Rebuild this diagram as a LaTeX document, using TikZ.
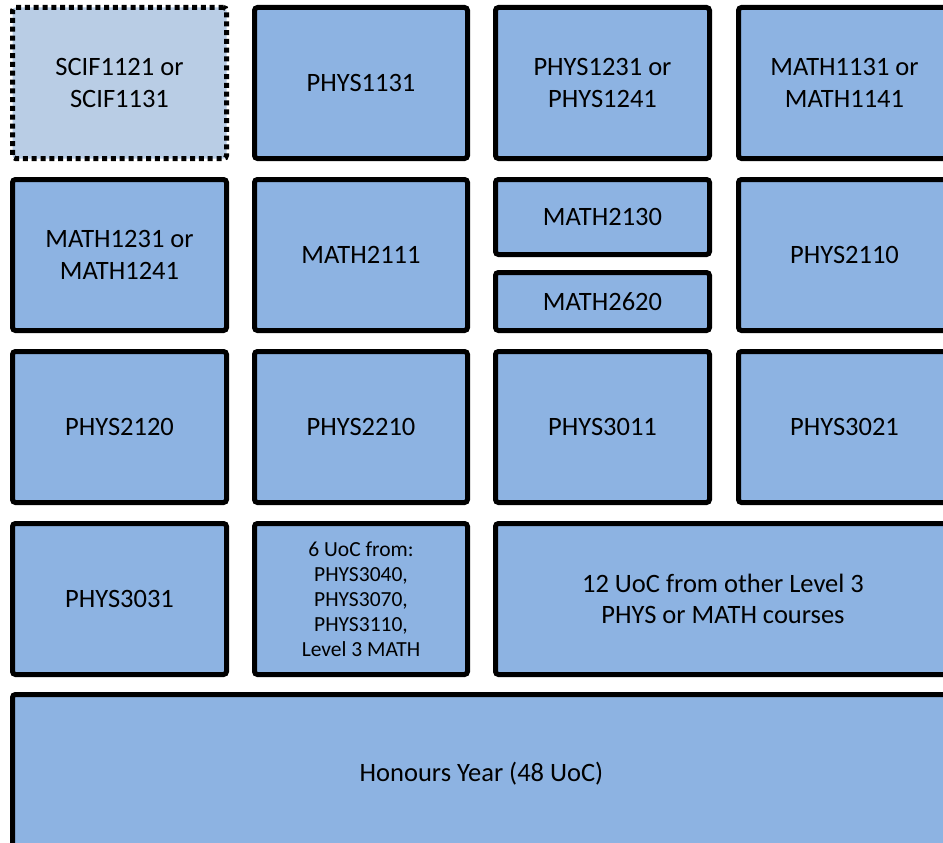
\documentclass[tikz,border=0pt]{standalone}
\usepackage{fontspec}
\setmainfont{Carlito}
\definecolor{boxblue}{HTML}{8DB3E2}
\definecolor{lightblue}{HTML}{B9CDE5}
\begin{document}
\begin{tikzpicture}[x=1pt,y=-1pt,
  course/.style={draw=black, line width=5pt, fill=boxblue, rounded corners=3pt,
    inner sep=0pt, outer sep=0pt, align=center,
    font=\fontsize{26.5pt}{31.5pt}\selectfont},
  optional/.style={course, fill=lightblue, dash pattern=on 5pt off 3.8pt},
  smalltext/.style={font=\fontsize{21.5pt}{25pt}\selectfont}]
\clip (0,0) rectangle (943,843);
\fill[white] (0,0) rectangle (943,843);
% row 1
\node[optional, minimum width=214pt, minimum height=151pt] (scif) at (119.5,83) {SCIF1121 or\\SCIF1131};
\node[course, minimum width=213pt, minimum height=151pt] (p1131) at (361,83) {PHYS1131};
\node[course, minimum width=214pt, minimum height=151pt] (p1231) at (602.5,83) {PHYS1231 or\\PHYS1241};
\node[course, minimum width=212pt, minimum height=151pt] (m1131) at (844.5,83) {MATH1131 or\\MATH1141};
% row 2
\node[course, minimum width=214pt, minimum height=151pt] (m1231) at (119.5,255) {MATH1231 or\\MATH1241};
\node[course, minimum width=213pt, minimum height=151pt] (m2111) at (361,255) {MATH2111};
\node[course, minimum width=214pt, minimum height=75pt] (m2130) at (602.5,217) {MATH2130};
\node[course, minimum width=214pt, minimum height=58pt] (m2620) at (602.5,301.5) {MATH2620};
\node[course, minimum width=212pt, minimum height=151pt] (p2110) at (844.5,255) {PHYS2110};
% row 3
\node[course, minimum width=214pt, minimum height=151pt] (p2120) at (119.5,427) {PHYS2120};
\node[course, minimum width=213pt, minimum height=151pt] (p2210) at (361,427) {PHYS2210};
\node[course, minimum width=214pt, minimum height=151pt] (p3011) at (602.5,427) {PHYS3011};
\node[course, minimum width=212pt, minimum height=151pt] (p3021) at (844.5,427) {PHYS3021};
% row 4
\node[course, minimum width=214pt, minimum height=151pt] (p3031) at (119.5,599) {PHYS3031};
\node[course, smalltext, minimum width=213pt, minimum height=151pt] (six) at (361,599) {6 UoC from:\\PHYS3040,\\PHYS3070,\\PHYS3110,\\Level 3 MATH};
\node[course, minimum width=455pt, minimum height=151pt] (twelve) at (723,599) {12 UoC from other Level 3\\PHYS or MATH courses};
% row 5
\node[course, minimum width=938pt, minimum height=159pt] (honours) at (481.5,774) {Honours Year (48 UoC)};
\end{tikzpicture}
\end{document}
